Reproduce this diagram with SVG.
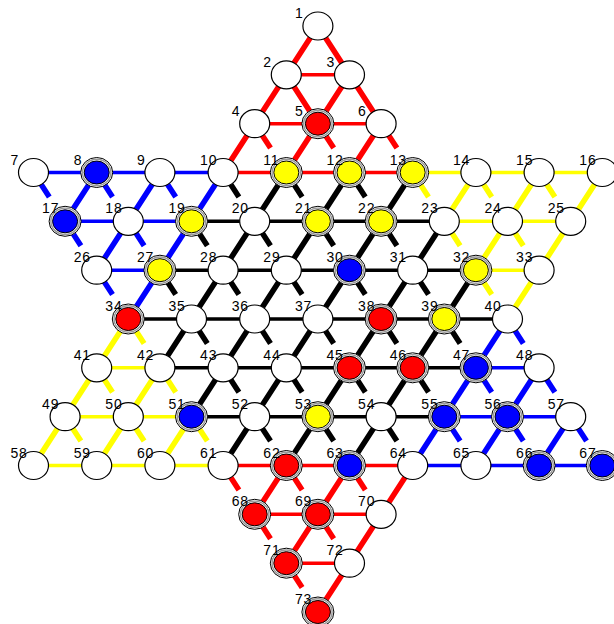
<svg xmlns="http://www.w3.org/2000/svg" xmlns:xlink="http://www.w3.org/1999/xlink" width="614" height="624" viewBox="0 0 614 624">
<style>
.e{fill:none;stroke-linecap:butt}
.d{stroke-width:5.5}
.h{stroke-width:3.5}
.red{stroke:#ff0000}
.blue{stroke:#0000ff}
.yel{stroke:#ffff00}
.blk{stroke:#000000}
text{font-family:"Liberation Sans",Arial,sans-serif;font-size:14px;letter-spacing:0.8px;fill:#000}
</style>
<defs>
<g id="W"><ellipse rx="15" ry="14" fill="#fff" stroke="#000" stroke-width="1.2"/></g>
<g id="R"><ellipse rx="16" ry="15" fill="#fff" stroke="#000"/><ellipse rx="14.2" ry="13.2" fill="none" stroke="#999" stroke-width="1.4"/><ellipse rx="12.5" ry="11.5" fill="#ff0000" stroke="#000"/></g>
<g id="B"><ellipse rx="16" ry="15" fill="#fff" stroke="#000"/><ellipse rx="14.2" ry="13.2" fill="none" stroke="#999" stroke-width="1.4"/><ellipse rx="12.5" ry="11.5" fill="#0000ff" stroke="#000"/></g>
<g id="Y"><ellipse rx="16" ry="15" fill="#fff" stroke="#000"/><ellipse rx="14.2" ry="13.2" fill="none" stroke="#999" stroke-width="1.4"/><ellipse rx="12.5" ry="11.5" fill="#ffff00" stroke="#000"/></g>
</defs>
<rect width="614" height="624" fill="#fff"/>
<g id="connectors">
<path class="e h red" d="M286.3 74.8H349.5M254.7 123.7H381.1M223.1 172.5H412.7M223.1 465.5H412.7M254.7 514.3H381.1M286.3 563.2H349.5"/>
<path class="e h blue" d="M33.5 172.5H223.1M65.1 221.3H191.5M96.7 270.2H159.9M475.9 367.8H539.1M444.3 416.7H570.7M412.7 465.5H602.3"/>
<path class="e h yel" d="M412.7 172.5H602.3M444.3 221.3H570.7M475.9 270.2H539.1M96.7 367.8H159.9M65.1 416.7H191.5M33.5 465.5H223.1"/>
<path class="e h blk" d="M191.5 221.3H444.3M159.9 270.2H475.9M128.3 319H507.5M159.9 367.8H475.9M191.5 416.7H444.3"/>
<path class="e d red" d="M317.9 26L223.1 172.5M349.5 74.8L286.3 172.5M381.1 123.7L349.5 172.5M286.3 465.5L254.7 514.3M349.5 465.5L286.3 563.2M412.7 465.5L317.9 612M317.9 26L381.1 123.7M286.3 74.8L317.9 123.7"/>
<path class="e d blue" d="M223.1 172.5L128.3 319M507.5 319L412.7 465.5M96.7 172.5L65.1 221.3M159.9 172.5L96.7 270.2M539.1 367.8L475.9 465.5M570.7 416.7L539.1 465.5"/>
<path class="e d yel" d="M128.3 319L33.5 465.5M159.9 367.8L96.7 465.5M191.5 416.7L159.9 465.5M475.9 172.5L444.3 221.3M539.1 172.5L475.9 270.2M602.3 172.5L507.5 319"/>
<path class="e d blk" d="M286.3 172.5L159.9 367.8M349.5 172.5L191.5 416.7M412.7 172.5L223.1 465.5M444.3 221.3L286.3 465.5M475.9 270.2L349.5 465.5"/>
<path class="e d red" d="M254.7 123.7l15.8 24.4M317.9 123.7l15.8 24.4M381.1 123.7l15.8 24.4M223.1 465.5l15.8 24.4M286.3 465.5l15.8 24.4M349.5 465.5l15.8 24.4M254.7 514.3l15.8 24.4M317.9 514.3l15.8 24.4M286.3 563.2l15.8 24.4"/>
<path class="e d blue" d="M33.5 172.5l15.8 24.4M96.7 172.5l15.8 24.4M159.9 172.5l15.8 24.4M65.1 221.3l15.8 24.4M128.3 221.3l15.8 24.4M96.7 270.2l15.8 24.4M507.5 319l15.8 24.4M475.9 367.8l15.8 24.4M539.1 367.8l15.8 24.4M444.3 416.7l15.8 24.4M507.5 416.7l15.8 24.4M570.7 416.7l15.8 24.4"/>
<path class="e d yel" d="M412.7 172.5l15.8 24.4M475.9 172.5l15.8 24.4M539.1 172.5l15.8 24.4M444.3 221.3l15.8 24.4M507.5 221.3l15.8 24.4M475.9 270.2l15.8 24.4M128.3 319l15.8 24.4M96.7 367.8l15.8 24.4M159.9 367.8l15.8 24.4M65.1 416.7l15.8 24.4M128.3 416.7l15.8 24.4M191.5 416.7l15.8 24.4"/>
<path class="e d blk" d="M223.1 172.5l15.8 24.4M286.3 172.5l15.8 24.4M349.5 172.5l15.8 24.4M191.5 221.3l15.8 24.4M254.7 221.3l15.8 24.4M317.9 221.3l15.8 24.4M381.1 221.3l15.8 24.4M159.9 270.2l15.8 24.4M223.1 270.2l15.8 24.4M286.3 270.2l15.8 24.4M349.5 270.2l15.8 24.4M412.7 270.2l15.8 24.4M191.5 319l15.8 24.4M254.7 319l15.8 24.4M317.9 319l15.8 24.4M381.1 319l15.8 24.4M444.3 319l15.8 24.4M223.1 367.8l15.8 24.4M286.3 367.8l15.8 24.4M349.5 367.8l15.8 24.4M412.7 367.8l15.8 24.4M254.7 416.7l15.8 24.4M317.9 416.7l15.8 24.4M381.1 416.7l15.8 24.4"/>
</g>
<g id="nodes">
<g id="n1"><use href="#W" x="317.9" y="26"/><text x="294.9" y="18">1</text></g>
<g id="n2"><use href="#W" x="286.3" y="74.8"/><text x="263.3" y="66.8">2</text></g>
<g id="n3"><use href="#W" x="349.5" y="74.8"/><text x="326.5" y="66.8">3</text></g>
<g id="n4"><use href="#W" x="254.7" y="123.7"/><text x="231.7" y="115.7">4</text></g>
<g id="n5"><use href="#R" x="317.9" y="123.7"/><text x="294.9" y="115.7">5</text></g>
<g id="n6"><use href="#W" x="381.1" y="123.7"/><text x="358.1" y="115.7">6</text></g>
<g id="n7"><use href="#W" x="33.5" y="172.5"/><text x="10.5" y="164.5">7</text></g>
<g id="n8"><use href="#B" x="96.7" y="172.5"/><text x="73.7" y="164.5">8</text></g>
<g id="n9"><use href="#W" x="159.9" y="172.5"/><text x="136.9" y="164.5">9</text></g>
<g id="n10"><use href="#W" x="223.1" y="172.5"/><text x="200.1" y="164.5">10</text></g>
<g id="n11"><use href="#Y" x="286.3" y="172.5"/><text x="263.3" y="164.5">11</text></g>
<g id="n12"><use href="#Y" x="349.5" y="172.5"/><text x="326.5" y="164.5">12</text></g>
<g id="n13"><use href="#Y" x="412.7" y="172.5"/><text x="389.7" y="164.5">13</text></g>
<g id="n14"><use href="#W" x="475.9" y="172.5"/><text x="452.9" y="164.5">14</text></g>
<g id="n15"><use href="#W" x="539.1" y="172.5"/><text x="516.1" y="164.5">15</text></g>
<g id="n16"><use href="#W" x="602.3" y="172.5"/><text x="579.3" y="164.5">16</text></g>
<g id="n17"><use href="#B" x="65.1" y="221.3"/><text x="42.1" y="213.3">17</text></g>
<g id="n18"><use href="#W" x="128.3" y="221.3"/><text x="105.3" y="213.3">18</text></g>
<g id="n19"><use href="#Y" x="191.5" y="221.3"/><text x="168.5" y="213.3">19</text></g>
<g id="n20"><use href="#W" x="254.7" y="221.3"/><text x="231.7" y="213.3">20</text></g>
<g id="n21"><use href="#Y" x="317.9" y="221.3"/><text x="294.9" y="213.3">21</text></g>
<g id="n22"><use href="#Y" x="381.1" y="221.3"/><text x="358.1" y="213.3">22</text></g>
<g id="n23"><use href="#W" x="444.3" y="221.3"/><text x="421.3" y="213.3">23</text></g>
<g id="n24"><use href="#W" x="507.5" y="221.3"/><text x="484.5" y="213.3">24</text></g>
<g id="n25"><use href="#W" x="570.7" y="221.3"/><text x="547.7" y="213.3">25</text></g>
<g id="n26"><use href="#W" x="96.7" y="270.2"/><text x="73.7" y="262.2">26</text></g>
<g id="n27"><use href="#Y" x="159.9" y="270.2"/><text x="136.9" y="262.2">27</text></g>
<g id="n28"><use href="#W" x="223.1" y="270.2"/><text x="200.1" y="262.2">28</text></g>
<g id="n29"><use href="#W" x="286.3" y="270.2"/><text x="263.3" y="262.2">29</text></g>
<g id="n30"><use href="#B" x="349.5" y="270.2"/><text x="326.5" y="262.2">30</text></g>
<g id="n31"><use href="#W" x="412.7" y="270.2"/><text x="389.7" y="262.2">31</text></g>
<g id="n32"><use href="#Y" x="475.9" y="270.2"/><text x="452.9" y="262.2">32</text></g>
<g id="n33"><use href="#W" x="539.1" y="270.2"/><text x="516.1" y="262.2">33</text></g>
<g id="n34"><use href="#R" x="128.3" y="319"/><text x="105.3" y="311">34</text></g>
<g id="n35"><use href="#W" x="191.5" y="319"/><text x="168.5" y="311">35</text></g>
<g id="n36"><use href="#W" x="254.7" y="319"/><text x="231.7" y="311">36</text></g>
<g id="n37"><use href="#W" x="317.9" y="319"/><text x="294.9" y="311">37</text></g>
<g id="n38"><use href="#R" x="381.1" y="319"/><text x="358.1" y="311">38</text></g>
<g id="n39"><use href="#Y" x="444.3" y="319"/><text x="421.3" y="311">39</text></g>
<g id="n40"><use href="#W" x="507.5" y="319"/><text x="484.5" y="311">40</text></g>
<g id="n41"><use href="#W" x="96.7" y="367.8"/><text x="73.7" y="359.8">41</text></g>
<g id="n42"><use href="#W" x="159.9" y="367.8"/><text x="136.9" y="359.8">42</text></g>
<g id="n43"><use href="#W" x="223.1" y="367.8"/><text x="200.1" y="359.8">43</text></g>
<g id="n44"><use href="#W" x="286.3" y="367.8"/><text x="263.3" y="359.8">44</text></g>
<g id="n45"><use href="#R" x="349.5" y="367.8"/><text x="326.5" y="359.8">45</text></g>
<g id="n46"><use href="#R" x="412.7" y="367.8"/><text x="389.7" y="359.8">46</text></g>
<g id="n47"><use href="#B" x="475.9" y="367.8"/><text x="452.9" y="359.8">47</text></g>
<g id="n48"><use href="#W" x="539.1" y="367.8"/><text x="516.1" y="359.8">48</text></g>
<g id="n49"><use href="#W" x="65.1" y="416.7"/><text x="42.1" y="408.7">49</text></g>
<g id="n50"><use href="#W" x="128.3" y="416.7"/><text x="105.3" y="408.7">50</text></g>
<g id="n51"><use href="#B" x="191.5" y="416.7"/><text x="168.5" y="408.7">51</text></g>
<g id="n52"><use href="#W" x="254.7" y="416.7"/><text x="231.7" y="408.7">52</text></g>
<g id="n53"><use href="#Y" x="317.9" y="416.7"/><text x="294.9" y="408.7">53</text></g>
<g id="n54"><use href="#W" x="381.1" y="416.7"/><text x="358.1" y="408.7">54</text></g>
<g id="n55"><use href="#B" x="444.3" y="416.7"/><text x="421.3" y="408.7">55</text></g>
<g id="n56"><use href="#B" x="507.5" y="416.7"/><text x="484.5" y="408.7">56</text></g>
<g id="n57"><use href="#W" x="570.7" y="416.7"/><text x="547.7" y="408.7">57</text></g>
<g id="n58"><use href="#W" x="33.5" y="465.5"/><text x="10.5" y="457.5">58</text></g>
<g id="n59"><use href="#W" x="96.7" y="465.5"/><text x="73.7" y="457.5">59</text></g>
<g id="n60"><use href="#W" x="159.9" y="465.5"/><text x="136.9" y="457.5">60</text></g>
<g id="n61"><use href="#W" x="223.1" y="465.5"/><text x="200.1" y="457.5">61</text></g>
<g id="n62"><use href="#R" x="286.3" y="465.5"/><text x="263.3" y="457.5">62</text></g>
<g id="n63"><use href="#B" x="349.5" y="465.5"/><text x="326.5" y="457.5">63</text></g>
<g id="n64"><use href="#W" x="412.7" y="465.5"/><text x="389.7" y="457.5">64</text></g>
<g id="n65"><use href="#W" x="475.9" y="465.5"/><text x="452.9" y="457.5">65</text></g>
<g id="n66"><use href="#B" x="539.1" y="465.5"/><text x="516.1" y="457.5">66</text></g>
<g id="n67"><use href="#B" x="602.3" y="465.5"/><text x="579.3" y="457.5">67</text></g>
<g id="n68"><use href="#R" x="254.7" y="514.3"/><text x="231.7" y="506.3">68</text></g>
<g id="n69"><use href="#R" x="317.9" y="514.3"/><text x="294.9" y="506.3">69</text></g>
<g id="n70"><use href="#W" x="381.1" y="514.3"/><text x="358.1" y="506.3">70</text></g>
<g id="n71"><use href="#R" x="286.3" y="563.2"/><text x="263.3" y="555.2">71</text></g>
<g id="n72"><use href="#W" x="349.5" y="563.2"/><text x="326.5" y="555.2">72</text></g>
<g id="n73"><use href="#R" x="317.9" y="612"/><text x="294.9" y="604">73</text></g>
</g>
</svg>
